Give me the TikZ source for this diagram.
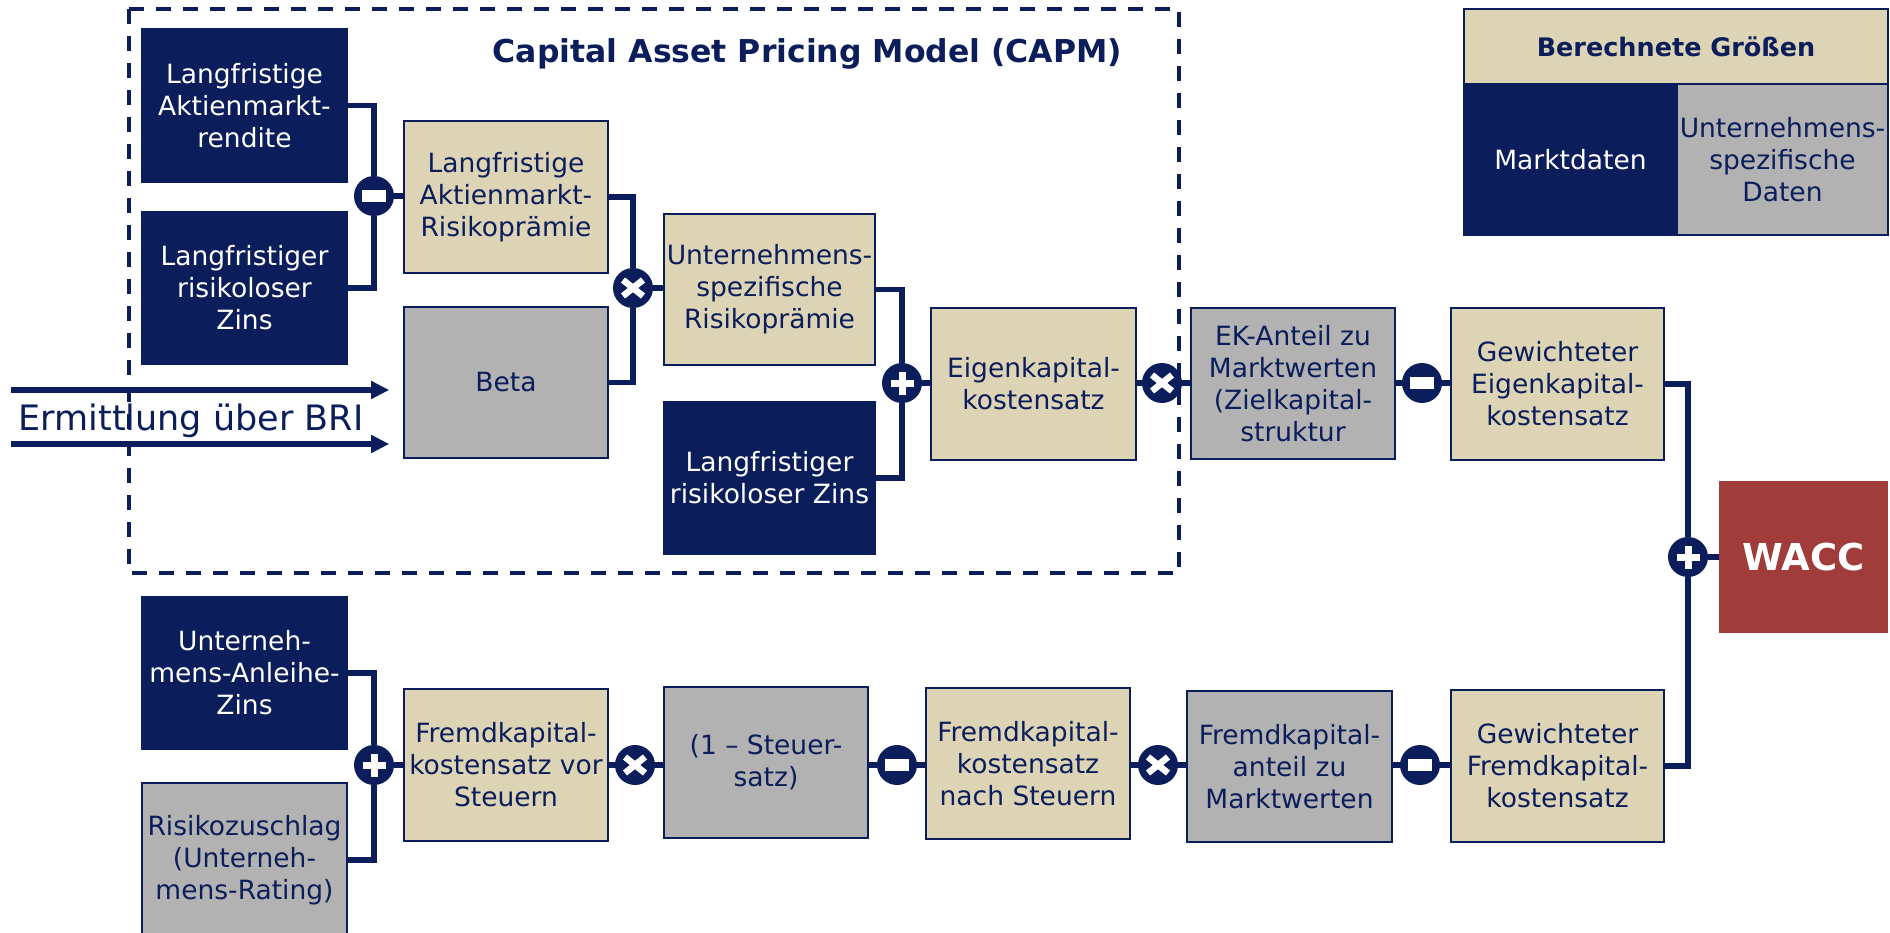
\documentclass[tikz,border=0pt]{standalone}
\usepackage{fontspec}
\setmainfont{DejaVu Sans}
\usetikzlibrary{arrows.meta,backgrounds}
\definecolor{navy}{RGB}{11,29,90}
\definecolor{tanc}{RGB}{221,211,181}
\definecolor{grayc}{RGB}{178,178,178}
\definecolor{waccred}{RGB}{160,61,59}
\tikzset{
  wh/.style 2 args={minimum width=#1pt, minimum height=#2pt},
  box/.style={rectangle, draw=navy, line width=1.6pt, inner sep=0pt, align=center, text=navy},
  tanbox/.style={box, fill=tanc},
  graybox/.style={box, fill=grayc},
  darkbox/.style={box, fill=navy, draw=navy, text=white},
  waccbox/.style={rectangle, fill=waccred, inner sep=0pt, text=white, font=\bfseries\fontsize{37}{40}\selectfont},
  conn/.style={draw=navy, line width=5.5pt},
  opc/.style={circle, fill=navy, minimum size=40pt, inner sep=0pt},
  opminus/.style={opc, path picture={\fill[white] ([xshift=-12pt,yshift=-6pt]path picture bounding box.center) rectangle ([xshift=12pt,yshift=6pt]path picture bounding box.center);}},
  opplus/.style={opc, path picture={\draw[white,line width=7pt] ([xshift=-11.5pt]path picture bounding box.center) -- ([xshift=11.5pt]path picture bounding box.center) ([yshift=-11.5pt]path picture bounding box.center) -- ([yshift=11.5pt]path picture bounding box.center);}},
  optimes/.style={opc, path picture={\draw[white,line width=6.5pt] ([xshift=-10pt,yshift=-8pt]path picture bounding box.center) -- ([xshift=10pt,yshift=8pt]path picture bounding box.center) ([xshift=-10pt,yshift=8pt]path picture bounding box.center) -- ([xshift=10pt,yshift=-8pt]path picture bounding box.center);}},
  arr/.style={conn, line width=6pt, -{Triangle[length=18pt,width=17pt]}, shorten >=14pt},
}
\begin{document}
\begin{tikzpicture}[x=1pt, y=-1pt, every node/.append style={font=\fontsize{26.5}{32}\selectfont}]
\useasboundingbox (0,0) rectangle (1890,933);

% title
\node[text=navy, anchor=base, font=\bfseries\fontsize{31.5}{36}\selectfont] (title) at (807.5,62.7) {Capital Asset Pricing Model (CAPM)};

% boxes
\node[darkbox, wh={205}{153}] (a1) at (244.5,105.5) {Langfristige\\Aktienmarkt-\\rendite};
\node[darkbox, wh={205}{152}] (a2) at (244.5,288) {Langfristiger\\risikoloser\\Zins};
\node[darkbox, wh={205}{152}] (a3) at (244.5,673) {Unterneh-\\mens-Anleihe-\\Zins};
\node[graybox, wh={205}{154}] (a4) at (244.5,860) {Risikozuschlag\\(Unterneh-\\mens-Rating)};
\node[tanbox, wh={204}{152}] (b1) at (506,197) {Langfristige\\Aktienmarkt-\\Risikoprämie};
\node[graybox, wh={204}{151}] (b2) at (506,382.5) {Beta};
\node[tanbox, wh={204}{152}] (b3) at (506,765) {Fremdkapital-\\kostensatz vor\\Steuern};
\node[tanbox, wh={211}{151}] (c1) at (769.5,289.5) {Unternehmens-\\spezifische\\Risikoprämie};
\node[darkbox, wh={211}{152}] (c2) at (769.5,478) {Langfristiger\\risikoloser Zins};
\node[graybox, wh={204}{151}] (c3) at (766,762.5) {(1 – Steuer-\\satz)};
\node[tanbox, wh={205}{152}] (d1) at (1033.5,384) {Eigenkapital-\\kostensatz};
\node[tanbox, wh={204}{151}] (d2) at (1028,763.5) {Fremdkapital-\\kostensatz\\nach Steuern};
\node[graybox, wh={204}{151}] (e1) at (1293,383.5) {EK-Anteil zu\\Marktwerten\\(Zielkapital-\\struktur};
\node[graybox, wh={205}{151}] (e2) at (1289.5,766.5) {Fremdkapital-\\anteil zu\\Marktwerten};
\node[tanbox, wh={213}{152}] (f1) at (1557.5,384) {Gewichteter\\Eigenkapital-\\kostensatz};
\node[tanbox, wh={213}{152}] (f2) at (1557.5,766) {Gewichteter\\Fremdkapital-\\kostensatz};
\node[waccbox, wh={169}{152}] (w) at (1803.5,557) {WACC};

% legend
\node[tanbox, wh={424}{75}, font=\bfseries\fontsize{25.5}{30}\selectfont] (lg) at (1676,46.5) {Berechnete Größen};
\node[darkbox, wh={213}{151}] (lm) at (1570.5,159.5) {Marktdaten};
\node[graybox, wh={211}{151}] (lu) at (1782.5,159.5) {Unternehmens-\\spezifische\\Daten};

% operators
\node[opminus] (m1) at (374,196) {};
\node[optimes] (t1) at (633,288) {};
\node[opplus] (p1) at (902,383) {};
\node[optimes] (t2) at (1162,383) {};
\node[opminus] (m2) at (1422,383) {};
\node[opplus] (p2) at (1688,557) {};
\node[opplus] (p3) at (374,765) {};
\node[optimes] (t3) at (635,765) {};
\node[opminus] (m3) at (897,765) {};
\node[optimes] (t4) at (1158,765) {};
\node[opminus] (m4) at (1420,765) {};

% connectors
\begin{scope}[on background layer]
\draw[conn] (a1.east) -| (m1);
\draw[conn] (a2.east) -| (m1);
\draw[conn] (m1) -- (m1 -| b1.west);
\draw[conn] (b1.east) -| (t1);
\draw[conn] (b2.east) -| (t1);
\draw[conn] (t1) -- (t1 -| c1.west);
\draw[conn] (c1.east) -| (p1);
\draw[conn] (c2.east) -| (p1);
\draw[conn] (p1) -- (p1 -| d1.west);
\draw[conn] (t2 -| d1.east) -- (t2 -| e1.west);
\draw[conn] (m2 -| e1.east) -- (m2 -| f1.west);
\draw[conn] (f1.east) -| (p2);
\draw[conn] (f2.east) -| (p2);
\draw[conn] (p2) -- (w.west);
\draw[conn] (a3.east) -| (p3);
\draw[conn] (a4.east) -| (p3);
\draw[conn] (p3) -- (p3 -| b3.west);
\draw[conn] (t3 -| b3.east) -- (t3 -| c3.west);
\draw[conn] (m3 -| c3.east) -- (m3 -| d2.west);
\draw[conn] (t4 -| d2.east) -- (t4 -| e2.west);
\draw[conn] (m4 -| e2.east) -- (m4 -| f2.west);
\end{scope}

% BRI arrows
\node[text=navy, anchor=base, font=\fontsize{35}{40}\selectfont] (bri) at (191,430) {Ermittlung über BRI};
\coordinate (s1) at (11,390);
\coordinate (s2) at (11,444);
\draw[arr] (s1) -- (s1 -| b2.west);
\draw[arr] (s2) -- (s2 -| b2.west);

% CAPM frame
\draw[navy, line width=4pt, dash pattern=on 15pt off 12pt] (129,9) rectangle (1179,573);
\end{tikzpicture}
\end{document}
